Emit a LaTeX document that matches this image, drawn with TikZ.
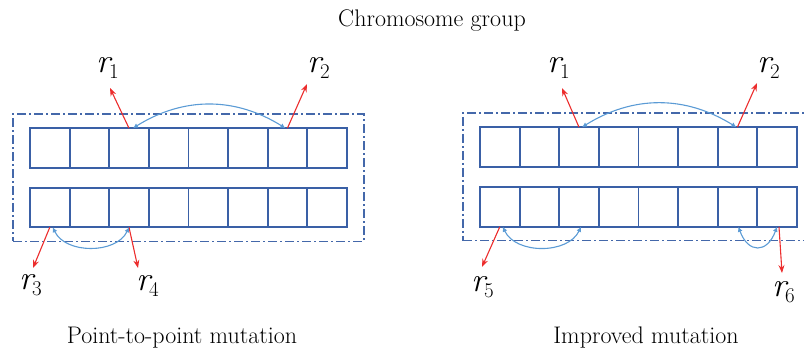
\documentclass[tikz,border=0pt]{standalone}
\usepackage{tikz}
\usetikzlibrary{
  arrows.meta,
  positioning,
  fit,
  calc
}
\definecolor{cellStroke}{HTML}{3A60A6}
\definecolor{frameStroke}{HTML}{4468AA}
\definecolor{arcStroke}{HTML}{5B9BD5}
\definecolor{mutRed}{HTML}{EC2D2D}
\newcommand{\rlab}[1]{{\fontsize{34}{34}\selectfont\itshape r}\kern-1pt\raisebox{-6pt}{\fontsize{21}{21}\selectfont #1}}
\tikzset{
  cell/.style={
    rectangle, draw=cellStroke, line width=1.8pt,
    minimum width=39.6pt, minimum height=39.6pt,
    inner sep=0pt, outer sep=0pt
  },
  group frame/.style={
    rectangle, draw=frameStroke, line width=1.4pt,
    dash pattern=on 9pt off 3pt on 2pt off 3pt,
    inner xsep=17pt, inner ysep=14pt
  },
  caption/.style={font=\fontsize{24}{28}\selectfont, inner sep=0pt, anchor=base},
  rlabel/.style={inner sep=0pt, anchor=base west},
  mut arrow/.style={-{Stealth[length=8pt,width=6pt]}, mutRed, line width=1.1pt},
  swap arc/.style={{Latex[length=5pt,width=5pt]}-{Latex[length=5pt,width=5pt]},
    arcStroke, line width=1.1pt},
}

\begin{document}
\begin{tikzpicture}[x=1pt, y=1pt]
    \useasboundingbox (0,0) rectangle (804,-352);

    % Captions
    \node[caption] (title) at (432,-27) {Chromosome group};
    \node[caption] (ppcap) at (182,-344) {Point-to-point mutation};
    \node[caption] (imcap) at (646,-344) {Improved mutation};

    % Cells
    \foreach \i in {1,...,8} {
      \pgfmathsetmacro{\xl}{30+(\i-0.5)*39.6}
      \pgfmathsetmacro{\xr}{480+(\i-0.5)*39.6}
      \node[cell] (ppa\i) at (\xl,-148) {};
      \node[cell] (ppb\i) at (\xl,-207.5) {};
      \node[cell] (ima\i) at (\xr,-147) {};
      \node[cell] (imb\i) at (\xr,-207) {};
    }

    % Frames
    \node[group frame, fit=(ppa1)(ppb8)] (ppgroup) {};
    \node[group frame, fit=(ima1)(imb8)] (imgroup) {};

    % Labels
    \node[rlabel] (pplab1) at (96,-73) {\rlab{1}};
    \node[rlabel] (pplab2) at (307,-73) {\rlab{2}};
    \node[rlabel] (pplab3) at (19,-290) {\rlab{3}};
    \node[rlabel] (pplab4) at (136,-291) {\rlab{4}};
    \node[rlabel] (imlab1) at (547,-73) {\rlab{1}};
    \node[rlabel] (imlab2) at (757,-73) {\rlab{2}};
    \node[rlabel] (imlab5) at (471,-292) {\rlab{5}};
    \node[rlabel] (imlab6) at (772,-297) {\rlab{6}};

    \coordinate (pptip1) at (110,-88);
    \coordinate (pptip2) at (307,-84);
    \coordinate (pptip3) at (33,-268);
    \coordinate (pptip4) at (138,-268);
    \coordinate (imtip1) at (562,-88);
    \coordinate (imtip2) at (757,-83);
    \coordinate (imtip5) at (482,-267);
    \coordinate (imtip6) at (782,-273);

    % Arrows
    \draw[mut arrow] (ppa3.north) -- (pptip1);
    \draw[mut arrow] (ppa7.north) -- (pptip2);
    \draw[mut arrow] (ppb1.south) -- (pptip3);
    \draw[mut arrow] (ppb3.south) -- (pptip4);
    \draw[mut arrow] (ima3.north) -- (imtip1);
    \draw[mut arrow] (ima7.north) -- (imtip2);
    \draw[mut arrow] (imb1.south) -- (imtip5);
    \draw[mut arrow] ([xshift=2pt]imb8.south) -- (imtip6);

    \draw[swap arc] ([xshift=4pt]ppa3.north) to[bend left=32] ([xshift=-2pt]ppa7.north);
    \draw[swap arc] ([xshift=3pt]ppb1.south) to[bend right=65] (ppb3.south);
    \draw[swap arc] ([xshift=3pt]ima3.north) to[bend left=32] ([xshift=-1pt]ima7.north);
    \draw[swap arc] ([xshift=3pt]imb1.south) to[bend right=65] ([xshift=2pt]imb3.south);
    \draw[swap arc] ([xshift=1pt]imb7.south) to[out=-70, in=-110, looseness=1.9] (imb8.south);
  \end{tikzpicture}
\end{document}
